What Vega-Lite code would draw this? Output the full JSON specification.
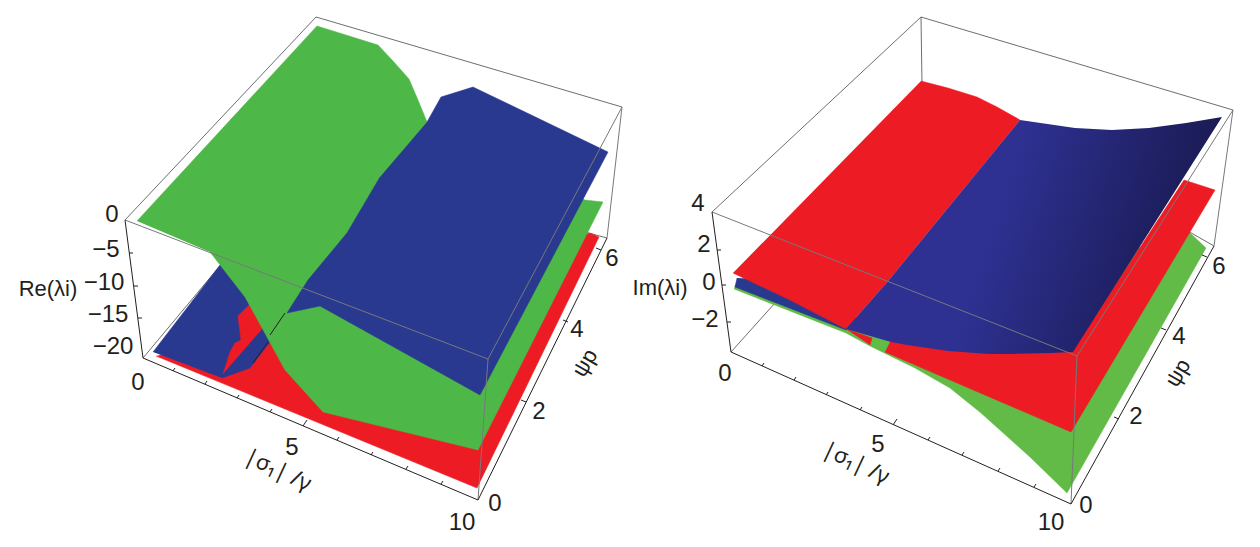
{"$schema":"https://vega.github.io/schema/vega-lite/v6.json","width":1260,"height":547,"autosize":{"type":"fit","contains":"padding"},"padding":0,"background":"white","config":{"view":{"stroke":null}},
"datasets":{"shapes":[
{"g":"bk","s":"b1","i":0,"x":125,"y":220},{"g":"bk","s":"b1","i":1,"x":316,"y":17},{"g":"bk","s":"b1","i":2,"x":622,"y":107},
{"g":"bk","s":"b2","i":0,"x":143,"y":358},{"g":"bk","s":"b2","i":1,"x":300,"y":170},
{"g":"bk","s":"b3","i":0,"x":607,"y":238},{"g":"bk","s":"b3","i":1,"x":585,"y":232},
{"g":"bk","s":"b4","i":0,"x":712,"y":212},{"g":"bk","s":"b4","i":1,"x":921,"y":17},{"g":"bk","s":"b4","i":2,"x":1233,"y":110},
{"g":"bk","s":"b5","i":0,"x":921,"y":17},{"g":"bk","s":"b5","i":1,"x":922,"y":85},
{"g":"bk","s":"b6","i":0,"x":731,"y":352},{"g":"bk","s":"b6","i":1,"x":775,"y":303},
{"g":"bk","s":"b7","i":0,"x":1214,"y":246},{"g":"bk","s":"b7","i":1,"x":1186,"y":230},
{"g":"r1","i":0,"x":156,"y":356},{"g":"r1","i":1,"x":477,"y":488},{"g":"r1","i":2,"x":599,"y":237},{"g":"r1","i":3,"x":590,"y":233},{"g":"r1","i":4,"x":320,"y":300},{"g":"r1","i":5,"x":270,"y":330},
{"g":"b1","i":0,"x":153,"y":352},{"g":"b1","i":1,"x":220,"y":265},{"g":"b1","i":2,"x":228,"y":258},{"g":"b1","i":3,"x":280,"y":310},{"g":"b1","i":4,"x":270,"y":342},{"g":"b1","i":5,"x":250,"y":368},{"g":"b1","i":6,"x":222,"y":378},
{"g":"r2","i":0,"x":223,"y":374},{"g":"r2","i":1,"x":230,"y":352},{"g":"r2","i":2,"x":235,"y":343},{"g":"r2","i":3,"x":241,"y":340},{"g":"r2","i":4,"x":238,"y":316},{"g":"r2","i":5,"x":250,"y":304},{"g":"r2","i":6,"x":263,"y":328},
{"g":"g1","i":0,"x":137,"y":221},{"g":"g1","i":1,"x":317,"y":26},{"g":"g1","i":2,"x":378,"y":45},{"g":"g1","i":3,"x":393,"y":61},{"g":"g1","i":4,"x":409,"y":79},{"g":"g1","i":5,"x":418,"y":100},{"g":"g1","i":6,"x":427,"y":122},{"g":"g1","i":7,"x":585,"y":200},{"g":"g1","i":8,"x":603,"y":202},{"g":"g1","i":9,"x":478,"y":450},{"g":"g1","i":10,"x":323,"y":412},{"g":"g1","i":11,"x":285,"y":370},{"g":"g1","i":12,"x":267,"y":337},{"g":"g1","i":13,"x":245,"y":297},{"g":"g1","i":14,"x":210,"y":252},
{"g":"b2","i":0,"x":427,"y":122},{"g":"b2","i":1,"x":441,"y":97},{"g":"b2","i":2,"x":473,"y":87},{"g":"b2","i":3,"x":608,"y":152},{"g":"b2","i":4,"x":480,"y":395},{"g":"b2","i":5,"x":320,"y":306},{"g":"b2","i":6,"x":287,"y":313},{"g":"b2","i":7,"x":308,"y":280},{"g":"b2","i":8,"x":347,"y":233},{"g":"b2","i":9,"x":380,"y":177},
{"g":"g3","i":0,"x":734,"y":289},{"g":"g3","i":1,"x":846,"y":333},{"g":"g3","i":2,"x":870,"y":346},{"g":"g3","i":3,"x":915,"y":368},{"g":"g3","i":4,"x":950,"y":388},{"g":"g3","i":5,"x":981,"y":413},{"g":"g3","i":6,"x":1030,"y":457},{"g":"g3","i":7,"x":1067,"y":493},{"g":"g3","i":8,"x":1206,"y":248},{"g":"g3","i":9,"x":1188,"y":231},{"g":"g3","i":10,"x":880,"y":335},{"g":"g3","i":11,"x":735,"y":285},
{"g":"r3","i":0,"x":885,"y":352},{"g":"r3","i":1,"x":1071,"y":432},{"g":"r3","i":2,"x":1215,"y":190},{"g":"r3","i":3,"x":1184,"y":180},{"g":"r3","i":4,"x":1073,"y":350},{"g":"r3","i":5,"x":891,"y":340},
{"g":"r4","i":0,"x":846,"y":329},{"g":"r4","i":1,"x":872,"y":338},{"g":"r4","i":2,"x":870,"y":345},
{"g":"b3","i":0,"x":737,"y":278},{"g":"b3","i":1,"x":735,"y":287},{"g":"b3","i":2,"x":846,"y":330},{"g":"b3","i":3,"x":860,"y":320},{"g":"b3","i":4,"x":780,"y":280},
{"g":"r5","i":0,"x":921,"y":81},{"g":"r5","i":1,"x":948,"y":88},{"g":"r5","i":2,"x":977,"y":97},{"g":"r5","i":3,"x":997,"y":107},{"g":"r5","i":4,"x":1020,"y":120},{"g":"r5","i":5,"x":889,"y":280},{"g":"r5","i":6,"x":846,"y":329},{"g":"r5","i":7,"x":790,"y":300},{"g":"r5","i":8,"x":733,"y":273},
{"g":"b4","i":0,"x":1020,"y":120},{"g":"b4","i":1,"x":1075,"y":128},{"g":"b4","i":2,"x":1112,"y":130},{"g":"b4","i":3,"x":1149,"y":128},{"g":"b4","i":4,"x":1186,"y":123},{"g":"b4","i":5,"x":1222,"y":117},{"g":"b4","i":6,"x":1073,"y":352},{"g":"b4","i":7,"x":1051,"y":353},{"g":"b4","i":8,"x":1010,"y":354},{"g":"b4","i":9,"x":989,"y":354},{"g":"b4","i":10,"x":948,"y":351},{"g":"b4","i":11,"x":907,"y":345},{"g":"b4","i":12,"x":891,"y":342},{"g":"b4","i":13,"x":846,"y":329},{"g":"b4","i":14,"x":889,"y":280},
{"g":"fr","s":"f1","i":0,"x":125,"y":220},{"g":"fr","s":"f1","i":1,"x":488,"y":359},{"g":"fr","s":"f1","i":2,"x":622,"y":107},{"g":"fr","s":"f1","i":3,"x":607,"y":238},
{"g":"fr","s":"f2","i":0,"x":488,"y":359},{"g":"fr","s":"f2","i":1,"x":478,"y":500},
{"g":"fr","s":"f3","i":0,"x":712,"y":212},{"g":"fr","s":"f3","i":1,"x":1077,"y":356},{"g":"fr","s":"f3","i":2,"x":1233,"y":110},{"g":"fr","s":"f3","i":3,"x":1214,"y":246},
{"g":"fr","s":"f4","i":0,"x":1077,"y":356},{"g":"fr","s":"f4","i":1,"x":1071,"y":504},
{"g":"ax","s":"a1","i":0,"x":125,"y":220},{"g":"ax","s":"a1","i":1,"x":143,"y":358},{"g":"ax","s":"a1","i":2,"x":478,"y":500},{"g":"ax","s":"a1","i":3,"x":607,"y":238},
{"g":"ax","s":"a2","i":0,"x":712,"y":212},{"g":"ax","s":"a2","i":1,"x":731,"y":352},{"g":"ax","s":"a2","i":2,"x":1071,"y":504},{"g":"ax","s":"a2","i":3,"x":1214,"y":246},
{"g":"ax","s":"e1","i":0,"x":285,"y":313},{"g":"ax","s":"e1","i":1,"x":270,"y":335},
{"g":"ax","s":"e2","i":0,"x":268,"y":342},{"g":"ax","s":"e2","i":1,"x":253,"y":363},
{"g":"ax","s":"t1","i":0,"x":173,"y":371},{"g":"ax","s":"t1","i":1,"x":175,"y":368},
{"g":"ax","s":"t2","i":0,"x":205,"y":384},{"g":"ax","s":"t2","i":1,"x":207,"y":381},
{"g":"ax","s":"t3","i":0,"x":237,"y":398},{"g":"ax","s":"t3","i":1,"x":239,"y":395},
{"g":"ax","s":"t4","i":0,"x":270,"y":412},{"g":"ax","s":"t4","i":1,"x":272,"y":409},
{"g":"ax","s":"t5","i":0,"x":303,"y":426},{"g":"ax","s":"t5","i":1,"x":307,"y":420},
{"g":"ax","s":"t6","i":0,"x":337,"y":440},{"g":"ax","s":"t6","i":1,"x":339,"y":437},
{"g":"ax","s":"t7","i":0,"x":371,"y":455},{"g":"ax","s":"t7","i":1,"x":373,"y":452},
{"g":"ax","s":"t8","i":0,"x":406,"y":469},{"g":"ax","s":"t8","i":1,"x":408,"y":466},
{"g":"ax","s":"t9","i":0,"x":441,"y":484},{"g":"ax","s":"t9","i":1,"x":443,"y":481},
{"g":"ax","s":"u2","i":0,"x":526,"y":402},{"g":"ax","s":"u2","i":1,"x":521,"y":400},
{"g":"ax","s":"u4","i":0,"x":568,"y":322},{"g":"ax","s":"u4","i":1,"x":563,"y":320},
{"g":"ax","s":"u6","i":0,"x":601,"y":250},{"g":"ax","s":"u6","i":1,"x":596,"y":248},
{"g":"ax","s":"v1","i":0,"x":129,"y":253},{"g":"ax","s":"v1","i":1,"x":133,"y":253},
{"g":"ax","s":"v2","i":0,"x":134,"y":286},{"g":"ax","s":"v2","i":1,"x":138,"y":286},
{"g":"ax","s":"v3","i":0,"x":138,"y":318},{"g":"ax","s":"v3","i":1,"x":142,"y":318},
{"g":"ax","s":"w1","i":0,"x":762,"y":366},{"g":"ax","s":"w1","i":1,"x":764,"y":363},
{"g":"ax","s":"w2","i":0,"x":794,"y":380},{"g":"ax","s":"w2","i":1,"x":796,"y":377},
{"g":"ax","s":"w3","i":0,"x":826,"y":395},{"g":"ax","s":"w3","i":1,"x":828,"y":392},
{"g":"ax","s":"w4","i":0,"x":860,"y":410},{"g":"ax","s":"w4","i":1,"x":862,"y":407},
{"g":"ax","s":"w5","i":0,"x":893,"y":425},{"g":"ax","s":"w5","i":1,"x":897,"y":419},
{"g":"ax","s":"w6","i":0,"x":928,"y":440},{"g":"ax","s":"w6","i":1,"x":930,"y":437},
{"g":"ax","s":"w7","i":0,"x":962,"y":455},{"g":"ax","s":"w7","i":1,"x":964,"y":452},
{"g":"ax","s":"w8","i":0,"x":998,"y":471},{"g":"ax","s":"w8","i":1,"x":1000,"y":468},
{"g":"ax","s":"w9","i":0,"x":1034,"y":487},{"g":"ax","s":"w9","i":1,"x":1036,"y":484},
{"g":"ax","s":"z2","i":0,"x":1119,"y":419},{"g":"ax","s":"z2","i":1,"x":1114,"y":417},
{"g":"ax","s":"z4","i":0,"x":1166,"y":330},{"g":"ax","s":"z4","i":1,"x":1161,"y":328},
{"g":"ax","s":"z6","i":0,"x":1207,"y":257},{"g":"ax","s":"z6","i":1,"x":1202,"y":255},
{"g":"ax","s":"q1","i":0,"x":717,"y":250},{"g":"ax","s":"q1","i":1,"x":721,"y":250},
{"g":"ax","s":"q2","i":0,"x":722,"y":285},{"g":"ax","s":"q2","i":1,"x":726,"y":285},
{"g":"ax","s":"q3","i":0,"x":727,"y":322},{"g":"ax","s":"q3","i":1,"x":731,"y":322}
],
"labels":[
{"t":"0","x":112,"y":215},{"t":"−5","x":106,"y":250},{"t":"−10","x":104,"y":283},{"t":"−15","x":108,"y":315},{"t":"−20","x":113,"y":347},{"t":"0","x":138,"y":383},{"t":"5","x":292,"y":448},{"t":"10","x":462,"y":523},{"t":"0","x":495,"y":504},{"t":"2","x":539,"y":412},{"t":"4","x":577,"y":330},{"t":"6","x":612,"y":259},
{"t":"4","x":698,"y":204},{"t":"2","x":704,"y":245},{"t":"0","x":709,"y":283},{"t":"−2","x":705,"y":320},{"t":"0","x":725,"y":374},{"t":"5","x":878,"y":445},{"t":"10","x":1051,"y":523},{"t":"0","x":1086,"y":506},{"t":"2","x":1136,"y":417},{"t":"4","x":1179,"y":337},{"t":"6","x":1219,"y":267}
],
"ztitles":[{"t":"Re(λi)","x":48,"y":289},{"t":"Im(λi)","x":660,"y":288}],
"xtitles":[{"t":"|σ₁| /γ","x":278,"y":470},{"t":"|σ₁| /γ","x":856,"y":463}],
"ytitles":[{"t":"ψp","x":585,"y":363},{"t":"ψp","x":1178,"y":373}]
},
"data":{"name":"shapes"},
"encoding":{"x":{"field":"x","type":"quantitative","scale":{"domain":[0,1260]},"axis":null},"y":{"field":"y","type":"quantitative","scale":{"domain":[547,0]},"axis":null}},
"layer":[
{"transform":[{"filter":"datum.g=='bk'"}],"mark":{"type":"line","stroke":"#6d6e71","strokeWidth":1},"encoding":{"detail":{"field":"s"},"order":{"field":"i","type":"quantitative"}}},
{"transform":[{"filter":"datum.g=='r1'"}],"mark":{"type":"line","fill":"#ED1C24","stroke":"#ED1C24","strokeWidth":0.5},"encoding":{"order":{"field":"i","type":"quantitative"}}},
{"transform":[{"filter":"datum.g=='b1'"}],"mark":{"type":"line","fill":"#2A3990","stroke":"#2A3990","strokeWidth":0.5},"encoding":{"order":{"field":"i","type":"quantitative"}}},
{"transform":[{"filter":"datum.g=='r2'"}],"mark":{"type":"line","fill":"#ED1C24","stroke":"#ED1C24","strokeWidth":0.5},"encoding":{"order":{"field":"i","type":"quantitative"}}},
{"transform":[{"filter":"datum.g=='g1'"}],"mark":{"type":"line","fill":"#4DB848","stroke":"#4DB848","strokeWidth":0.5},"encoding":{"order":{"field":"i","type":"quantitative"}}},
{"transform":[{"filter":"datum.g=='b2'"}],"mark":{"type":"line","fill":"#2A3990","stroke":"#2A3990","strokeWidth":0.5},"encoding":{"order":{"field":"i","type":"quantitative"}}},
{"transform":[{"filter":"datum.g=='g3'"}],"mark":{"type":"line","fill":"#62BB46","stroke":"#62BB46","strokeWidth":0.5},"encoding":{"order":{"field":"i","type":"quantitative"}}},
{"transform":[{"filter":"datum.g=='r3'"}],"mark":{"type":"line","fill":"#ED1C24","stroke":"#ED1C24","strokeWidth":0.5},"encoding":{"order":{"field":"i","type":"quantitative"}}},
{"transform":[{"filter":"datum.g=='r4'"}],"mark":{"type":"line","fill":"#ED1C24","stroke":"#ED1C24","strokeWidth":0.5},"encoding":{"order":{"field":"i","type":"quantitative"}}},
{"transform":[{"filter":"datum.g=='b3'"}],"mark":{"type":"line","fill":"#2A3990","stroke":"#2A3990","strokeWidth":0.5},"encoding":{"order":{"field":"i","type":"quantitative"}}},
{"transform":[{"filter":"datum.g=='r5'"}],"mark":{"type":"line","fill":"#ED1C24","stroke":"#ED1C24","strokeWidth":0.5},"encoding":{"order":{"field":"i","type":"quantitative"}}},
{"transform":[{"filter":"datum.g=='b4'"}],"mark":{"type":"line","fill":{"gradient":"linear","x1":0,"y1":0.3,"x2":1,"y2":0.5,"stops":[{"offset":0,"color":"#2E3192"},{"offset":0.4,"color":"#2E3192"},{"offset":1,"color":"#17174A"}]},"stroke":null},"encoding":{"order":{"field":"i","type":"quantitative"}}},
{"transform":[{"filter":"datum.g=='fr'"}],"mark":{"type":"line","stroke":"#77787b","strokeWidth":1},"encoding":{"detail":{"field":"s"},"order":{"field":"i","type":"quantitative"}}},
{"transform":[{"filter":"datum.g=='ax'"}],"mark":{"type":"line","stroke":"#231f20","strokeWidth":1},"encoding":{"detail":{"field":"s"},"order":{"field":"i","type":"quantitative"}}},
{"data":{"name":"labels"},"mark":{"type":"text","font":"Liberation Sans","fontSize":24,"fill":"#231f20","align":"center","baseline":"middle"},"encoding":{"text":{"field":"t"}}},
{"data":{"name":"ztitles"},"mark":{"type":"text","font":"Liberation Sans","fontSize":22,"fill":"#231f20","align":"center","baseline":"middle"},"encoding":{"text":{"field":"t"}}},
{"data":{"name":"xtitles"},"mark":{"type":"text","font":"Noto Sans","fontSize":22,"fill":"#231f20","align":"center","baseline":"middle","angle":25},"encoding":{"text":{"field":"t"}}},
{"data":{"name":"ytitles"},"mark":{"type":"text","font":"Liberation Sans","fontSize":22,"fill":"#231f20","align":"center","baseline":"middle","angle":300},"encoding":{"text":{"field":"t"}}}
]}
